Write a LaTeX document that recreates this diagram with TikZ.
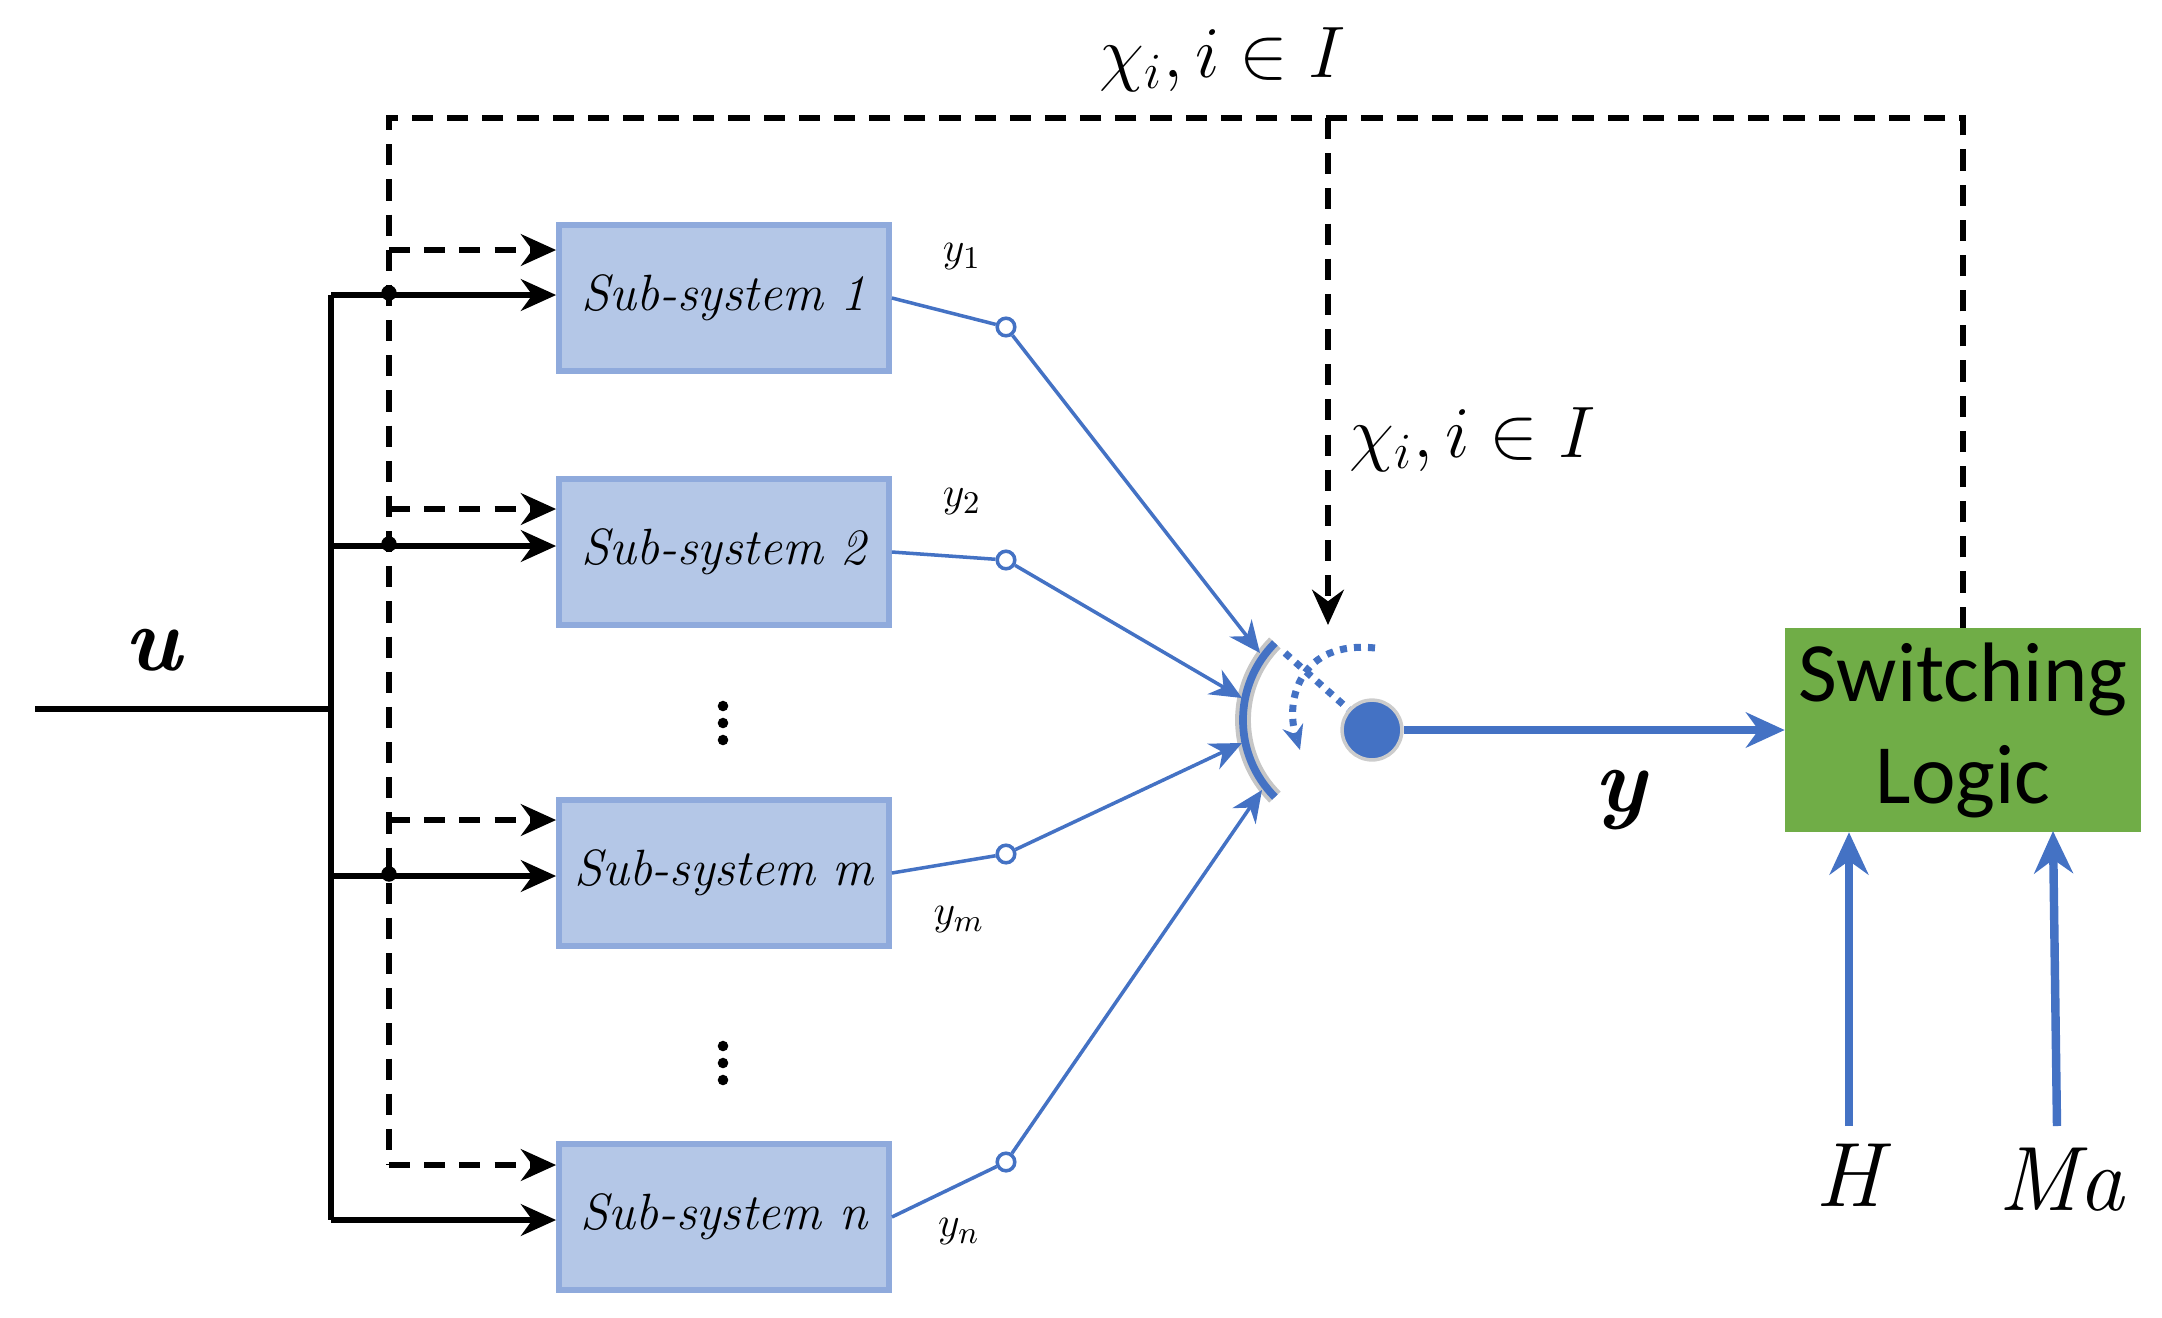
\documentclass[tikz,border=0pt]{standalone}
\usepackage{fontspec}
\newfontfamily\carlito{Carlito}
\usetikzlibrary{arrows.meta,calc}
\definecolor{boxblue}{RGB}{180,199,231}
\definecolor{edgeblue}{RGB}{143,170,220}
\definecolor{lineblue}{RGB}{68,114,196}
\definecolor{logicgreen}{RGB}{112,173,71}
\begin{document}
\begin{tikzpicture}[
        x=0.01cm, y=-0.01cm,
        %
        sub/.style={draw=edgeblue, line width=1.6pt, fill=boxblue,
            minimum width=3.3cm, minimum height=1.46cm, inner sep=0pt,
            font=\fontsize{14.5}{17}\selectfont\itshape},
        solid arrow/.style={line width=1.5pt, -{Stealth[length=10pt,width=9pt]}},
        dash arrow/.style={line width=1.6pt, dashed, dash pattern=on 6pt off 4pt,
            -{Stealth[length=10pt,width=9pt]}},
        out line/.style={lineblue, line width=1pt},
        hole/.style={circle, draw=lineblue, line width=1pt, fill=white,
            inner sep=0pt, minimum size=5pt},
        blue arrow/.style={lineblue, line width=1pt, -{Stealth[length=9pt,width=8pt]}}
    ]
        \useasboundingbox (0,0) rectangle (2162,1317);

        % Define the column positions
        \def\busx{331}
        \def\dashx{389}
        \def\holex{1006}

        % The sub-systems
        \node[sub] (s1) at (724,298) {Sub-system 1};
        \node[sub] (s2) at (724,552) {Sub-system 2};
        \node[sub] (sm) at (724,873) {Sub-system m};
        \node[sub] (sn) at (724,1217) {Sub-system n};

        % Vertical dots
        \foreach \yy in {723,1063}
            \foreach \d in {-17,0,17}
                \fill (723,\yy+\d) circle (1.5pt);

        % Input bus
        \coordinate (uin) at (35,709);
        \coordinate (ubus) at (\busx,709);
        \draw[line width=1.5pt] (uin) -- (ubus);
        \draw[line width=1.5pt] (\busx,295) -- (\busx,1220);
        \node[font=\fontsize{26}{28}\selectfont\bfseries\itshape] (ulab) at (153,650) {u};
        \foreach \s/\yy in {s1/295,s2/546,sm/876,sn/1220}
            \draw[solid arrow] (\busx,\yy) -- (\s.west |- 0,\yy);

        % Mode feedback from the switching logic
        \node[draw=logicgreen, fill=logicgreen, minimum width=3.55cm, minimum height=2.03cm,
            align=center, font=\carlito\fontsize{24}{29}\selectfont] (logic) at (1963,730)
            {Switching\\Logic};
        \coordinate (tr) at (1963,118);
        \coordinate (tl) at (\dashx,118);
        \coordinate (tm) at (1328,118);
        \draw[line width=1.6pt, dashed, dash pattern=on 6pt off 4pt]
            (logic.north) -- (tr) -- (tl) -- (\dashx,1165);
        \draw[dash arrow] (tm) -- (1328,625);
        \foreach \s/\yy in {s1/250,s2/509,sm/820,sn/1165}
            \draw[dash arrow] (\dashx,\yy) -- (\s.west |- 0,\yy);
        % junctions on the dashed line
        \foreach \yy in {293,544,874}
            \fill (\dashx,\yy) circle (2.2pt);

        \node[font=\fontsize{22}{24}\selectfont] (chi1) at (1223,60) {$\chi_i, i\in I$};
        \node[font=\fontsize{22}{24}\selectfont] (chi2) at (1473,440) {$\chi_i, i\in I$};

        % The switch
        \coordinate (sc) at (1352,720);
        \draw[gray!45, line width=4.5pt] ([shift={(135:109)}]sc) arc (135:225:109);
        \draw[lineblue, line width=2.2pt] ([shift={(135:109)}]sc) arc (135:225:109);
        \node[circle, fill=lineblue, draw=gray!40, line width=1pt, minimum size=17pt,
            inner sep=0pt] (pole) at (1372,730) {};
        \draw[lineblue, line width=2pt, dotted] (1285,653) -- (pole);
        \draw[lineblue, line width=2pt, dotted, -{Stealth[length=7pt,width=6pt,open]}]
            (1375,648) .. controls (1300,640) and (1285,700) .. (1300,750);

        % Outputs of the sub-systems
        \foreach \s/\yy/\tx/\ty/\lx/\ly/\lab in {
                s1/327/1260/653/962/257/1,
                s2/560/1242/698/962/502/2,
                sm/854/1242/743/959/920/m,
                sn/1162/1262/790/959/1232/n}
        {
            \node[hole] (h\s) at (\holex,\yy) {};
            \draw[out line] (\s.east) -- (h\s);
            \draw[blue arrow] (h\s) -- (\tx,\ty);
            \node[font=\fontsize{13}{14}\selectfont] (l\s) at (\lx,\ly) {$y_{\lab}$};
        }

        % Output to the switching logic
        \draw[lineblue, line width=2pt, -{Stealth[length=11pt,width=10pt]}] (pole) -- (logic.west |- pole);
        \node[font=\fontsize{26}{28}\selectfont\bfseries\itshape] (ylab) at (1620,800) {y};

        % Scheduling inputs
        \node[font=\fontsize{26}{28}\selectfont\itshape] (hlab) at (1849,1175) {H};
        \node[font=\fontsize{26}{28}\selectfont\itshape] (malab) at (2061,1180) {Ma};
        \coordinate (hin) at (1849,1126);
        \coordinate (main) at (2057,1126);
        \draw[lineblue, line width=2.4pt, -{Stealth[length=12pt,width=11pt]}] (hin) -- (logic.south -| hin);
        \draw[lineblue, line width=2.4pt, -{Stealth[length=12pt,width=11pt]}] (main) -- (2053,831);
\end{tikzpicture}
\end{document}
